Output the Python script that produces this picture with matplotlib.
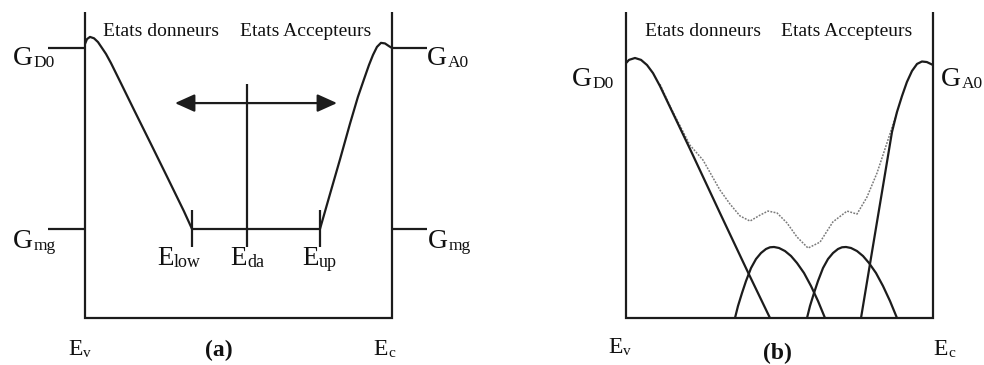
import matplotlib
matplotlib.use("Agg")
import matplotlib.pyplot as plt

plt.rcParams['font.family'] = ['Liberation Serif', 'DejaVu Serif']

# ---- energy axis: 0 = Ev, 1 = Ec ; density axis: 0 = none, 1 = G_D0 (panel a)
G_D0_LEVEL = 1.0
G_MG_LEVEL = 0.33
BOX_TOP = 1.133

# Panel (a): positions of the characteristic energies
E_LOW = 0.3485
E_DA = 0.5277
E_UP = 0.7655

# Panel (a): donor-like tail (from Ev down to E_low)
a_donor_x = [0.0, 0.0065, 0.0163, 0.0293, 0.0423, 0.0554, 0.0684, 0.0847,
             0.1173, 0.1596, 0.215, 0.267, 0.322, 0.3485]
a_donor_y = [1.015, 1.033, 1.041, 1.036, 1.022, 1.0, 0.978, 0.944,
             0.869, 0.771, 0.644, 0.524, 0.396, 0.33]

# Panel (a): acceptor-like tail (from E_up up to Ec)
a_accept_x = [0.7655, 0.798, 0.831, 0.863, 0.889, 0.909, 0.925, 0.938,
              0.951, 0.964, 0.977, 0.990, 1.0]
a_accept_y = [0.33, 0.459, 0.589, 0.719, 0.819, 0.885, 0.937, 0.974,
              1.004, 1.019, 1.017, 1.007, 1.0]

# Panel (b): band tails
b_donor_x = [0.0, 0.0098, 0.0293, 0.0489, 0.0684, 0.088, 0.1107,
             0.2085, 0.306, 0.397, 0.469]
b_donor_y = [0.944, 0.956, 0.963, 0.956, 0.937, 0.907, 0.859,
             0.626, 0.389, 0.170, 0.0]

b_accept_x = [0.7655, 0.7915, 0.8176, 0.8436, 0.8664, 0.8827, 0.899,
              0.915, 0.9316, 0.948, 0.964, 0.980, 1.0]
b_accept_y = [0.0, 0.178, 0.356, 0.533, 0.689, 0.763, 0.822,
              0.874, 0.915, 0.941, 0.950, 0.948, 0.937]

# Panel (b): deep donor-like and acceptor-like bands
b_gauss_d_x = [0.3550, 0.3648, 0.3779, 0.3909, 0.4072, 0.4235, 0.4397, 0.4560,
               0.4691, 0.4821, 0.4984, 0.5179, 0.5375, 0.5570, 0.5798, 0.6026,
               0.6254, 0.6482]
b_gauss_d_y = [0.0, 0.0444, 0.0926, 0.137, 0.185, 0.2185, 0.2407, 0.2556,
               0.2619, 0.263, 0.2593, 0.248, 0.2296, 0.2037, 0.1667, 0.1185,
               0.063, 0.0]

b_gauss_a_x = [0.5896, 0.5993, 0.6124, 0.6254, 0.6417, 0.6580, 0.6743, 0.6906,
               0.7036, 0.7166, 0.7329, 0.7524, 0.7720, 0.7915, 0.8143, 0.8371,
               0.8599, 0.8827]
b_gauss_a_y = [0.0, 0.0444, 0.0926, 0.137, 0.185, 0.2185, 0.2407, 0.2556,
               0.2619, 0.263, 0.2593, 0.248, 0.2296, 0.2037, 0.1667, 0.1185,
               0.063, 0.0]

# Panel (b): total density of states
b_total_x = [0.1107, 0.1433, 0.1759, 0.2085, 0.2508, 0.306, 0.3388, 0.3713,
             0.404, 0.4365, 0.4625, 0.492, 0.5244, 0.557, 0.593, 0.632,
             0.674, 0.72, 0.7524, 0.785, 0.8176, 0.850, 0.8827]
b_total_y = [0.866, 0.785, 0.712, 0.640, 0.585, 0.474, 0.422, 0.378,
             0.359, 0.381, 0.396, 0.389, 0.352, 0.300, 0.259, 0.281,
             0.356, 0.396, 0.385, 0.448, 0.537, 0.648, 0.763]

header_labels = ["Etats donneurs", "Etats Accepteurs"]
panel_labels = ["(a)", "(b)"]

INK = "#1c1c1c"
TXT_INK = "#111111"
LW = 1.6

fig = plt.figure(figsize=(9.84, 3.65), dpi=100)
fig.patch.set_facecolor("white")

W = 307 / 984
H = 270 / 365
B = 47 / 365
ax_a = fig.add_axes([85 / 984, B, W, H])
ax_b = fig.add_axes([626 / 984, B, W, H])
for ax in (ax_a, ax_b):
    ax.set_xlim(0, 1)
    ax.set_ylim(0, 1)
    ax.set_axis_off()


def line(ax, xs, ys, **kw):
    style = dict(color=INK, lw=LW, solid_capstyle="butt", clip_on=False)
    style.update(kw)
    ax.plot(xs, ys, **style)


def frame(ax):
    line(ax, [0, 0, 1, 1], [BOX_TOP, 0, 0, BOX_TOP], solid_joinstyle="miter")


def symbol(ax, x, y, main, sub, size, sub_size):
    """Symbol with a subscript, e.g. G with D0 written low and small."""
    t = ax.text(x, y, main, fontsize=size, ha="left", va="baseline",
                color=TXT_INK, clip_on=False)
    ax.annotate(sub, xy=(1, 0), xycoords=t, xytext=(0.4, 0),
                textcoords="offset points", ha="left", va="bottom",
                fontsize=sub_size, color=TXT_INK, annotation_clip=False)


# ---------------- Panel (a) ----------------
frame(ax_a)
line(ax_a, [-0.1205, 0], [G_D0_LEVEL, G_D0_LEVEL])
line(ax_a, [1, 1.114], [G_D0_LEVEL, G_D0_LEVEL])
line(ax_a, [-0.1205, 0], [G_MG_LEVEL, G_MG_LEVEL])
line(ax_a, [1, 1.114], [G_MG_LEVEL, G_MG_LEVEL])

line(ax_a, a_donor_x, a_donor_y)
line(ax_a, a_accept_x, a_accept_y)
line(ax_a, [E_LOW, E_UP], [G_MG_LEVEL, G_MG_LEVEL])
line(ax_a, [E_LOW, E_LOW], [0.263, 0.40])
line(ax_a, [E_UP, E_UP], [0.263, 0.40])
line(ax_a, [E_DA, E_DA], [0.263, 0.867])

ax_a.annotate("", xy=(0.293, 0.796), xytext=(0.821, 0.796),
              xycoords="data", textcoords="data",
              arrowprops=dict(arrowstyle="<|-|>,head_length=0.4,head_width=0.18",
                              mutation_scale=30, lw=LW, color=INK,
                              shrinkA=0, shrinkB=0),
              annotation_clip=False)

# ---------------- Panel (b) ----------------
frame(ax_b)
line(ax_b, b_total_x, b_total_y, color="#7a7a7a", lw=1.1, linestyle=(0, (1.2, 0.9)))
line(ax_b, b_donor_x, b_donor_y)
line(ax_b, b_accept_x, b_accept_y)
line(ax_b, b_gauss_d_x, b_gauss_d_y)
line(ax_b, b_gauss_a_x, b_gauss_a_y)

# ---------------- Labels ----------------
for ax, xd, xa in ((ax_a, 0.2476, 0.718), (ax_b, 0.2508, 0.72)):
    ax.text(xd, 1.044, header_labels[0], fontsize=14, ha="center",
            va="baseline", color=TXT_INK, clip_on=False)
    ax.text(xa, 1.044, header_labels[1], fontsize=14, ha="center",
            va="baseline", color=TXT_INK, clip_on=False)

GS, GSUB = 20, 12.5
symbol(ax_a, -0.2345, 0.937, "G", "D0", GS, GSUB)
symbol(ax_a, 1.114, 0.937, "G", "A0", GS, GSUB)
symbol(ax_a, -0.2345, 0.259, "G", "mg", GS, GSUB)
symbol(ax_a, 1.117, 0.259, "G", "mg", GS, GSUB)
symbol(ax_b, -0.176, 0.859, "G", "D0", GS, GSUB)
symbol(ax_b, 1.026, 0.859, "G", "A0", GS, GSUB)

ES, ESUB = 19.5, 13
symbol(ax_a, 0.2345, 0.196, "E", "low", ES, ESUB)
symbol(ax_a, 0.472, 0.196, "E", "da", ES, ESUB)
symbol(ax_a, 0.7068, 0.196, "E", "up", ES, ESUB)

VS, VSUB = 17, 11
for ax, xv, yv, xc in ((ax_a, -0.0554, -0.137, 0.938), (ax_b, -0.0586, -0.13, 1.0)):
    symbol(ax, xv, yv, "E", "v", VS, VSUB)
    symbol(ax, xc, -0.137, "E", "c", VS, VSUB)

ax_a.text(0.4365, -0.141, panel_labels[0], fontsize=17, fontweight="bold",
          ha="center", va="baseline", color=TXT_INK, clip_on=False)
ax_b.text(0.492, -0.152, panel_labels[1], fontsize=17, fontweight="bold",
          ha="center", va="baseline", color=TXT_INK, clip_on=False)

fig.savefig("out.png", dpi=100, facecolor="white")
